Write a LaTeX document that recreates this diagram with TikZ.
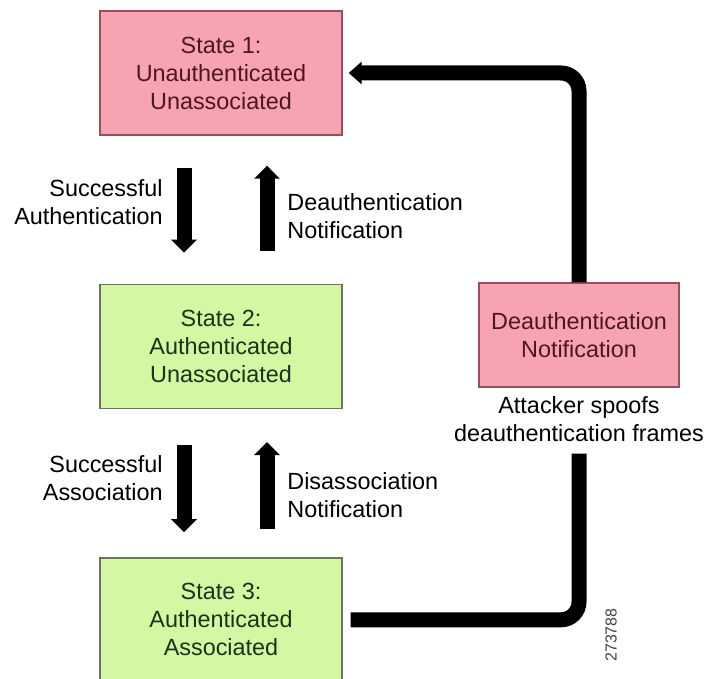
\documentclass[tikz,border=0pt]{standalone}
\usepackage{fontspec}
\setmainfont{Liberation Sans}
\usetikzlibrary{positioning,arrows.meta}

\definecolor{statepink}{RGB}{248,163,178}
\definecolor{pinkedge}{RGB}{150,80,92}
\definecolor{pinktext}{RGB}{80,22,32}
\definecolor{stategreen}{RGB}{213,247,163}
\definecolor{greenedge}{RGB}{105,118,88}
\definecolor{greentext}{RGB}{28,50,24}

\begin{document}
\begin{tikzpicture}[
    x=0.5pt, y=-0.5pt,
    every node/.style={font=\fontsize{11.7}{14}\selectfont},
    state/.style={draw, line width=0.7pt, align=center,
                  minimum width=121pt, minimum height=62pt},
    pinkstate/.style={state, fill=statepink, draw=pinkedge, text=pinktext},
    greenstate/.style={state, fill=stategreen, draw=greenedge, text=greentext},
    stem/.style={line width=7.5pt, -{Triangle[width=12.5pt,length=6.5pt]}},
    link/.style={line width=7.5pt, rounded corners=9pt},
    lbl/.style={inner sep=0pt}
  ]
  \useasboundingbox (0,0) rectangle (706,679);

  \node[pinkstate] (s1) at (221,73) {State 1:\\Unauthenticated\\Unassociated};
  \node[greenstate, below=74pt of s1] (s2) {State 2:\\Authenticated\\Unassociated};
  \node[greenstate, below=74pt of s2] (s3) {State 3:\\Authenticated\\Associated};
  \node[pinkstate, minimum width=100pt, minimum height=52pt] (dn) at (579,335) {Deauthentication\\Notification};
  \node[below=1pt of dn, align=center] (spoof) {Attacker spoofs\\deauthentication frames};

  % transitions between the states
  \draw[stem, shorten <=16pt, shorten >=15.5pt] ([xshift=-18.5pt]s1.south) -- ([xshift=-18.5pt]s2.north);
  \draw[stem, shorten <=16.5pt, shorten >=15pt] ([xshift=23pt]s2.north) -- ([xshift=23pt]s1.south);
  \draw[stem, shorten <=18pt, shorten >=12.5pt] ([xshift=-18.5pt]s2.south) -- ([xshift=-18.5pt]s3.north);
  \draw[stem, shorten <=14pt, shorten >=16.5pt] ([xshift=23pt]s3.north) -- ([xshift=23pt]s2.south);

  \node[lbl, align=right, anchor=east] (sauth) at (163,202) {Successful\\Authentication};
  \node[lbl, align=left, anchor=west] (dauth) at (287,216) {Deauthentication\\Notification};
  \node[lbl, align=right, anchor=east] (sassoc) at (163,478) {Successful\\Association};
  \node[lbl, align=left, anchor=west] (dassoc) at (287,495) {Disassociation\\Notification};

  % attack path
  \draw[link, shorten <=4pt, shorten >=33pt] (s3.east) -| (dn.south);
  \draw[link, -{Triangle[width=11pt,length=6.5pt]}, shorten >=3pt] (dn.north) |- (s1.east);

  \node[rotate=90, font=\fontsize{8}{9}\selectfont, text=black!75] (figno) at (611,635) {273788};
\end{tikzpicture}
\end{document}
